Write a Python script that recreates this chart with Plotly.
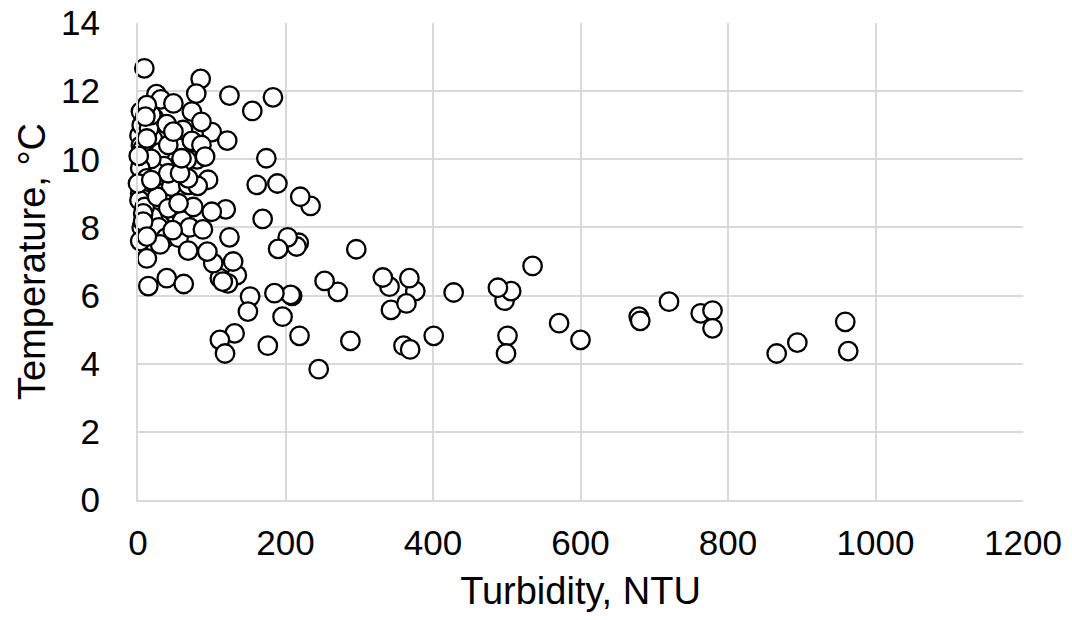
import plotly.graph_objects as go

# Turbidity (NTU) and Temperature (°C)
# background points of the dense cluster (mostly hidden)
turb_hidden = [2, 4, 5, 3, 2, 5, 3, 8, 6, 20, 22, 30, 35, 25, 33, 45, 50, 60, 75, 20, 28, 38, 55, 70, 80, 95, 100,
               4, 6, 9, 15, 18]
temp_hidden = [10.7, 10.4, 11.0, 9.0, 8.8, 8.0, 7.6, 9.9, 10.3, 10.6, 11.2, 10.2, 9.8, 9.6, 9.0, 9.2, 8.4, 8.2, 8.6,
               8.3, 8.0, 7.7, 7.7, 8.0, 10.0, 9.4, 10.8,
               11.4, 9.5, 8.6, 10.9, 11.3]

turb_visible = [571, 600, 679, 681, 720, 763, 779, 779, 866, 894, 959, 963,
                501, 499, 497, 506, 488, 535, 428, 401, 376, 368, 341, 332, 343, 364, 360, 369, 296, 288, 271, 253, 245,
                234, 220, 219, 218, 215, 203, 190, 209, 207, 185, 196, 176, 174, 169, 161, 189, 183, 155, 152, 149,
                124, 121, 124, 119, 100, 131, 111, 118, 134, 122, 111, 102, 129, 115, 94, 88, 68, 47, 30, 12, 14, 39,
                62, 26, 7, 7, 12, 41, 55, 68, 81, 14,
                8.6, 85, 79, 25, 31, 48, 12, 10, 73, 86, 39, 61, 12, 41, 73, 86, 91, 18, 66, 3, 41, 68, 12, 1, 57, 0,
                18, 48, 59]
temp_visible = [5.19, 4.70, 5.38, 5.26, 5.82, 5.48, 5.56, 5.04, 4.30, 4.62, 5.23, 4.37,
                4.82, 4.30, 5.85, 6.13, 6.23, 6.87, 6.09, 4.82, 6.13, 6.51, 6.26, 6.53, 5.58, 5.77, 4.53, 4.42, 7.36,
                4.67, 6.11, 6.43, 3.84,
                8.63, 8.90, 4.82, 7.55, 7.44, 7.71, 7.37, 5.99, 6.02, 6.07, 5.38, 4.53, 10.03, 8.25, 9.25, 9.29, 11.82,
                11.42, 5.97, 5.53,
                11.87, 10.55, 7.71, 8.53, 8.46, 4.89, 4.70, 4.30, 6.60, 6.36, 6.51, 6.95, 7.00, 6.41, 7.29, 7.94, 7.32,
                7.92, 7.50, 7.09, 6.28, 6.51, 6.34, 8.90, 8.41, 8.17, 7.73, 8.56, 8.71, 9.25, 9.22, 9.34,
                12.67, 12.36, 11.93, 11.91, 11.76, 11.64, 11.59, 11.25, 11.40, 11.10, 11.03, 10.86, 10.61, 10.42,
                10.54, 10.42, 10.08, 10.01, 9.98, 9.74, 9.59, 9.44, 9.44, 10.10, 9.59, 9.29, 9.39, 10.81, 10.03]

turbidity = turb_hidden + turb_visible
temperature = temp_hidden + temp_visible

x_ticks = [0, 200, 400, 600, 800, 1000, 1200]
y_ticks = [0, 2, 4, 6, 8, 10, 12, 14]

FONT = "Liberation Sans, Arial, sans-serif"
GRID = "#d9d9d9"

fig = go.Figure(go.Scatter(
    x=turbidity, y=temperature, mode="markers", cliponaxis=False,
    marker=dict(symbol="circle", size=18.5, color="white",
                line=dict(color="black", width=2.3)),
    showlegend=False,
))

fig.update_layout(
    width=1072, height=620,
    margin=dict(l=138, r=49, t=23, b=120, autoexpand=False),
    paper_bgcolor="white", plot_bgcolor="white",
    font=dict(family=FONT, color="black", size=35),
)
fig.update_xaxes(
    range=[0, 1200], tickvals=x_ticks, ticktext=[str(v) for v in x_ticks],
    showgrid=True, gridcolor=GRID, gridwidth=2, zeroline=False,
    showline=True, linecolor=GRID, linewidth=2,
    ticks="", ticklabelstandoff=11, automargin=False,
    tickfont=dict(size=35, family=FONT, color="black"),
    title=dict(text="Turbidity, NTU", font=dict(size=38, family=FONT, color="black"), standoff=16),
)
fig.update_yaxes(
    range=[0, 14], tickvals=y_ticks, ticktext=[str(v) for v in y_ticks],
    showgrid=True, gridcolor=GRID, gridwidth=2, zeroline=False,
    showline=True, linecolor=GRID, linewidth=2,
    ticks="", ticklabelstandoff=29, automargin=False,
    tickfont=dict(size=35, family=FONT, color="black"),
    title=dict(text="Temperature, °C", font=dict(size=38, family=FONT, color="black"), standoff=4),
)

fig.write_html("out.html")
